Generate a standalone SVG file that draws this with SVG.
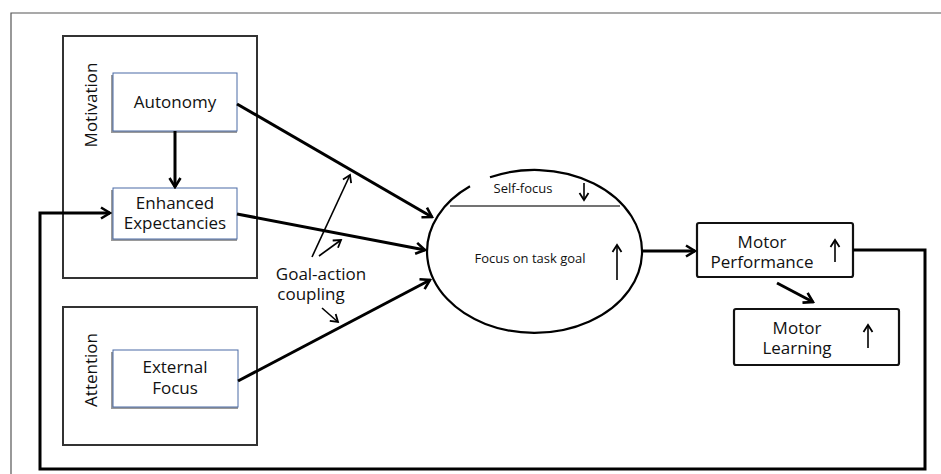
<svg xmlns="http://www.w3.org/2000/svg" width="941" height="474" viewBox="0 0 941 474">
<style>
.lbl{font-family:"Open Sans","Liberation Sans",sans-serif;font-size:17px;fill:#111;text-anchor:middle}
.sm{font-family:"Open Sans","Liberation Sans",sans-serif;font-size:13px;fill:#111;text-anchor:middle}
.grp{fill:#fff;stroke:#333;stroke-width:2}
.inner{fill:#fff;stroke:#4a6aa5;stroke-width:1}
.shadow{fill:#9a9a9a}
.mbox{fill:#fff;stroke:#111;stroke-width:2.2}
.thick{fill:none;stroke:#000;stroke-width:3}
.thin{fill:none;stroke:#000;stroke-width:1.6}
</style>
<defs>
<marker id="ah" markerUnits="userSpaceOnUse" viewBox="0 0 14 14" refX="12" refY="7" markerWidth="14" markerHeight="14" orient="auto">
<path d="M3 1.5 L12 7 L3 12.5" fill="none" stroke="#000" stroke-width="2.6"/>
</marker>
<marker id="ahs" markerUnits="userSpaceOnUse" viewBox="0 0 12 12" refX="10" refY="6" markerWidth="12" markerHeight="12" orient="auto">
<path d="M3 1.5 L10 6 L3 10.5" fill="none" stroke="#000" stroke-width="1.8"/>
</marker>
</defs>
<rect width="941" height="474" fill="#fff"/>
<path d="M11 474 V13 H941" fill="none" stroke="#555" stroke-width="1.2"/>

<g id="motivation">
<rect class="grp" x="63" y="36" width="194" height="242"/>
<text class="lbl" transform="translate(97 105) rotate(-90)">Motivation</text>
</g>
<g id="attention">
<rect class="grp" x="63" y="307" width="194" height="138"/>
<text class="lbl" transform="translate(97 370) rotate(-90)">Attention</text>
</g>
<g id="autonomy">
<rect class="shadow" x="111" y="75" width="126" height="58"/>
<rect class="inner" x="113" y="73" width="124" height="58"/>
<text class="lbl" x="175" y="108">Autonomy</text>
</g>
<g id="enhanced">
<rect class="shadow" x="111" y="190" width="126" height="51"/>
<rect class="inner" x="113" y="188" width="124" height="51"/>
<text class="lbl" x="175" y="209">Enhanced</text>
<text class="lbl" x="175" y="229">Expectancies</text>
</g>
<g id="external">
<rect class="shadow" x="111" y="352" width="127" height="57"/>
<rect class="inner" x="113" y="350" width="125" height="57"/>
<text class="lbl" x="175" y="373">External</text>
<text class="lbl" x="175" y="394">Focus</text>
</g>
<g id="focus">
<path d="M490 177.3 A107.5 81.5 0 1 1 470 186.3" fill="none" stroke="#000" stroke-width="2.2"/>
<line x1="450" y1="206" x2="620" y2="206" stroke="#444" stroke-width="1.6"/>
<text class="sm" x="523" y="193">Self-focus</text>
<text class="sm" x="530" y="263">Focus on task goal</text>
</g>
<g id="motor-performance">
<rect class="mbox" x="697" y="223" width="156" height="54" rx="2"/>
<text class="lbl" x="762" y="248">Motor</text>
<text class="lbl" x="762" y="268">Performance</text>
</g>
<g id="motor-learning">
<rect class="mbox" x="734" y="309" width="165" height="56" rx="2"/>
<text class="lbl" x="797" y="334">Motor</text>
<text class="lbl" x="797" y="354">Learning</text>
</g>
<g id="goal-action-label">
<text class="lbl" x="321" y="280">Goal-action</text>
<text class="lbl" x="311" y="300">coupling</text>
</g>

<g id="connectors">
<line class="thick" x1="237" y1="104" x2="432" y2="217" marker-end="url(#ah)"/>
<line class="thick" x1="237" y1="214" x2="425" y2="250" marker-end="url(#ah)"/>
<line class="thick" x1="238" y1="381" x2="430" y2="280" marker-end="url(#ah)"/>
<line class="thick" x1="175" y1="131" x2="175" y2="187" marker-end="url(#ah)"/>
<line class="thick" x1="642" y1="251" x2="695" y2="251" marker-end="url(#ah)"/>
<line class="thick" x1="777" y1="283" x2="813" y2="302" marker-end="url(#ah)"/>
<path class="thick" d="M853 250 H925 V469 H40 V213 H110" marker-end="url(#ah)"/>
<line class="thin" x1="312" y1="257" x2="350" y2="175" marker-end="url(#ahs)"/>
<line class="thin" x1="319" y1="256" x2="341" y2="240" marker-end="url(#ahs)"/>
<line class="thin" x1="322" y1="308" x2="338" y2="322" marker-end="url(#ahs)"/>
<line class="thin" x1="584" y1="183" x2="584" y2="200" marker-end="url(#ahs)"/>
<line class="thin" x1="617" y1="280" x2="617" y2="245" marker-end="url(#ahs)"/>
<line class="thin" x1="835" y1="262" x2="835" y2="240" marker-end="url(#ahs)"/>
<line class="thin" x1="868" y1="348" x2="868" y2="325" marker-end="url(#ahs)"/>
</g>
</svg>
